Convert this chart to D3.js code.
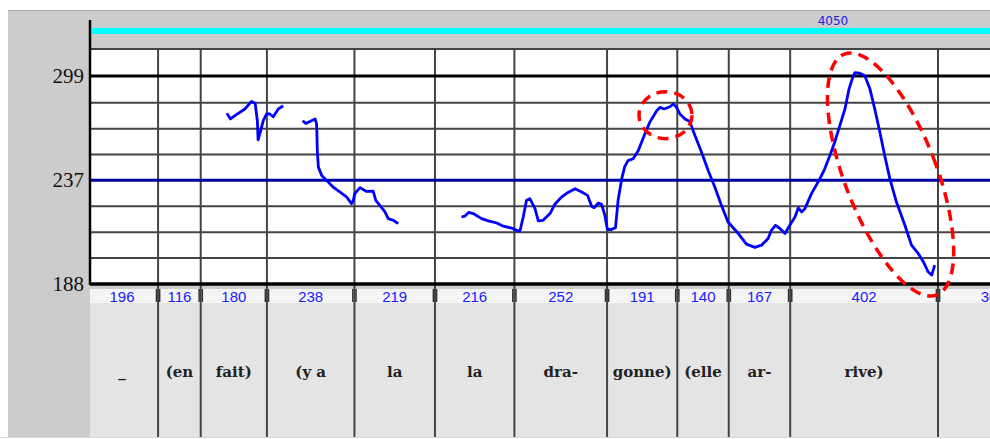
<!DOCTYPE html>
<html>
<head>
<meta charset="utf-8">
<script src="https://cdn.jsdelivr.net/npm/d3@7/dist/d3.min.js"></script>
<style>
  body { margin: 0; background: #fff; overflow: hidden; }
</style>
</head>
<body>
<div id="chart"></div>
<script>
// syllable tier: label + duration (ms) of each segment
const syllables = ["_", "(en", "fait)", "(y a", "la", "la", "dra-", "gonne)", "(elle", "ar-", "rive)", ""];
const durations = [196, 116, 180, 238, 219, 216, 252, 191, 140, 167, 402, 300];
const pitchTicks = [299, 237, 188];
const headerLabel = "4050";

// pitch contour pieces: [time ms, F0 Hz]
const contourA = [[383,275.1],[393,271.7],[405,273.7],[432,277.8],[450,282.5],[460,281.3],[466,270.6],[468,259.3],
  [475,264.7],[482,270.6],[491,274.7],[500,274.7],[509,273.0],[523,277.8],[536,279.8]];
const contourB = [[589,270.6],[598,269.0],[609,270.2],[623,271.7],[627,268.7],[628,262.8],[629,253.2],[632,244.0],
  [641,239.5],[654,236.9],[672,233.4],[691,230.8],[709,228.2],[722,224.9],[727,226.6],[731,230.0],[745,233.1],
  [763,231.1],[781,231.3],[788,226.6],[799,224.1],[813,220.8],[822,217.5],[836,216.7],[849,215.1]];
const contourC = [[1021,218.3],[1030,218.7],[1041,220.6],[1053,220.0],[1076,217.5],[1094,216.4],[1117,215.4],
  [1135,213.9],[1157,213.0],[1171,211.9],[1180,211.5],[1189,218.3],[1198,226.6],[1207,227.4],[1221,222.4],
  [1230,216.4],[1243,216.7],[1262,220.0],[1275,224.6],[1293,228.2],[1311,230.6],[1330,232.5],[1348,230.8],
  [1364,229.1],[1375,223.6],[1382,222.9],[1393,225.2],[1402,224.6],[1411,219.2],[1418,212.3],[1429,212.3],
  [1440,213.2],[1447,226.6],[1457,237.8],[1465,244.3],[1474,247.6],[1488,248.6],[1502,253.2],[1520,262.8],
  [1533,269.6],[1552,276.7],[1561,278.8],[1572,277.8],[1588,279.2],[1597,280.9],[1606,278.8],[1615,274.7],
  [1629,271.7],[1642,270.2],[1656,261.8],[1674,252.2],[1692,242.2],[1710,233.4],[1728,224.1],[1746,215.9],
  [1774,210.4],[1796,205.5],[1819,204.0],[1837,205.0],[1855,208.1],[1864,211.9],[1875,214.3],[1887,212.8],
  [1901,210.4],[1914,214.3],[1928,218.3],[1937,222.8],[1946,220.8],[1955,222.4],[1973,230.0],[1996,237.8],
  [2009,243.1],[2023,250.4],[2036,257.9],[2050,267.7],[2064,277.8],[2075,290.4],[2085,298.0],[2091,301.3],
  [2104,300.9],[2118,299.1],[2132,290.4],[2145,277.8],[2159,263.7],[2172,250.4],[2186,237.8],[2204,225.7],
  [2227,214.3],[2245,205.0],[2263,201.3],[2277,197.6],[2290,193.2],[2300,191.8],[2308,196.1]];

// hand-drawn highlights: centre [ms, Hz]
const highlights = [
  { t: 1576, hz: 274, rx: 26.5, ry: 23.5, rot: 0 },
  { t: 2188, hz: 240, rx: 46, ry: 129, rot: -21 }
];

const W = 990, H = 439;
const plotLeft = 90, plotTop = 49, plotBottom = 284, tierTop = 289, stripBottom = 303, tierBottom = 437;

const svg = d3.select("#chart").append("svg")
  .attr("width", W).attr("height", H);

// cumulative boundaries
const bounds = [0];
durations.forEach(d => bounds.push(bounds[bounds.length - 1] + d));

const x = d3.scaleLinear()
  .domain([0, bounds[11]])
  .range([86, 938]);
const y = d3.scaleLog()
  .domain([188, 299])
  .range([plotBottom, 76]);

// background panels
svg.append("rect").attr("x", 8).attr("y", 11).attr("width", W - 8).attr("height", tierBottom - 11).attr("fill", "#cccccc");
svg.append("line").attr("x1", 8).attr("x2", W).attr("y1", 10.5).attr("y2", 10.5).attr("stroke", "#a9a9a9");
svg.append("rect").attr("x", 92).attr("y", 28).attr("width", W - 92).attr("height", 6).attr("fill", "#00ffff");
svg.append("text").attr("x", 833).attr("y", 25).attr("text-anchor", "middle")
  .attr("font-family", "DejaVu Sans, sans-serif").attr("font-size", 12).attr("fill", "#2020e0")
  .text(headerLabel);

svg.append("rect").attr("x", plotLeft).attr("y", plotTop).attr("width", W - plotLeft).attr("height", plotBottom - plotTop).attr("fill", "#fff");
svg.append("rect").attr("x", plotLeft).attr("y", tierTop).attr("width", W - plotLeft).attr("height", stripBottom - tierTop).attr("fill", "#f4f4f4");
svg.append("rect").attr("x", plotLeft).attr("y", stripBottom).attr("width", W - plotLeft).attr("height", tierBottom - stripBottom).attr("fill", "#e4e4e4");
svg.append("line").attr("x1", 0).attr("x2", W).attr("y1", tierBottom + 0.5).attr("y2", tierBottom + 0.5).attr("stroke", "#d8d8d8");

// semitone grid
const grid = svg.append("g");
d3.range(1, 8).filter(k => k !== 4).forEach(k => {
  const yy = y(188 * Math.pow(2, k / 12));
  grid.append("line").attr("x1", plotLeft).attr("x2", W).attr("y1", yy).attr("y2", yy)
    .attr("stroke", "#444").attr("stroke-width", 2);
});
grid.append("line").attr("x1", plotLeft).attr("x2", W).attr("y1", plotTop).attr("y2", plotTop)
  .attr("stroke", "#444").attr("stroke-width", 2);

// segment boundaries
const inner = bounds.slice(1, 12);
svg.append("g").selectAll("line").data(inner).join("line")
  .attr("x1", d => x(d)).attr("x2", d => x(d))
  .attr("y1", plotTop).attr("y2", tierBottom)
  .attr("stroke", "#444").attr("stroke-width", 2);
const bars = svg.append("g");
inner.forEach(b => {
  [-1.6, 1.6].forEach(o => {
    bars.append("line").attr("x1", x(b) + o).attr("x2", x(b) + o)
      .attr("y1", tierTop).attr("y2", stripBottom - 1)
      .attr("stroke", "#333").attr("stroke-width", 1.5);
  });
});

// labelled pitch lines
pitchTicks.forEach(v => {
  svg.append("line").attr("x1", plotLeft).attr("x2", W).attr("y1", y(v)).attr("y2", y(v))
    .attr("stroke", v === 237 ? "#0000a0" : "#000")
    .attr("stroke-width", v === 188 ? 3.5 : 3);
});
svg.append("line").attr("x1", plotLeft).attr("x2", plotLeft).attr("y1", 20).attr("y2", plotBottom + 1)
  .attr("stroke", "#000").attr("stroke-width", 2.5);

svg.append("g").selectAll("text").data(pitchTicks).join("text")
  .attr("x", 84).attr("y", d => y(d) + 7)
  .attr("text-anchor", "end")
  .attr("font-family", "Liberation Serif, Times New Roman, serif")
  .attr("font-size", 21).attr("fill", "#111")
  .text(d => d);

// contour
svg.append("clipPath").attr("id", "plotclip")
  .append("rect").attr("x", plotLeft).attr("y", plotTop).attr("width", W - plotLeft).attr("height", plotBottom - plotTop);
const line = d3.line().x(d => x(d[0])).y(d => y(d[1]));
svg.append("g").attr("clip-path", "url(#plotclip)")
  .selectAll("path").data([contourA, contourB, contourC]).join("path")
  .attr("d", line)
  .attr("fill", "none").attr("stroke", "#0000ff").attr("stroke-width", 2.8)
  .attr("stroke-linejoin", "round");

// red dashed highlights
svg.append("g").selectAll("ellipse").data(highlights).join("ellipse")
  .attr("cx", 0).attr("cy", 0)
  .attr("rx", d => d.rx).attr("ry", d => d.ry)
  .attr("transform", d => `translate(${x(d.t)},${y(d.hz)}) rotate(${d.rot})`)
  .attr("fill", "none").attr("stroke", "#ff0000").attr("stroke-width", 3.5)
  .attr("stroke-dasharray", "11 7");

// tier texts
const segs = durations.map((d, i) => ({ dur: d, label: syllables[i], mid: (bounds[i] + bounds[i + 1]) / 2 }));
svg.append("g").selectAll("text").data(segs).join("text")
  .attr("x", d => x(d.mid)).attr("y", 302)
  .attr("text-anchor", "middle")
  .attr("font-family", "Liberation Sans, Arial, sans-serif")
  .attr("font-size", 15).attr("fill", "#1a1aff")
  .text(d => d.dur);
svg.append("g").selectAll("text").data(segs).join("text")
  .attr("x", d => x(d.mid)).attr("y", 377)
  .attr("text-anchor", "middle")
  .attr("font-family", "DejaVu Serif, serif")
  .attr("font-weight", "bold")
  .attr("font-size", 15).attr("fill", "#222")
  .text(d => d.label);
</script>
</body>
</html>
